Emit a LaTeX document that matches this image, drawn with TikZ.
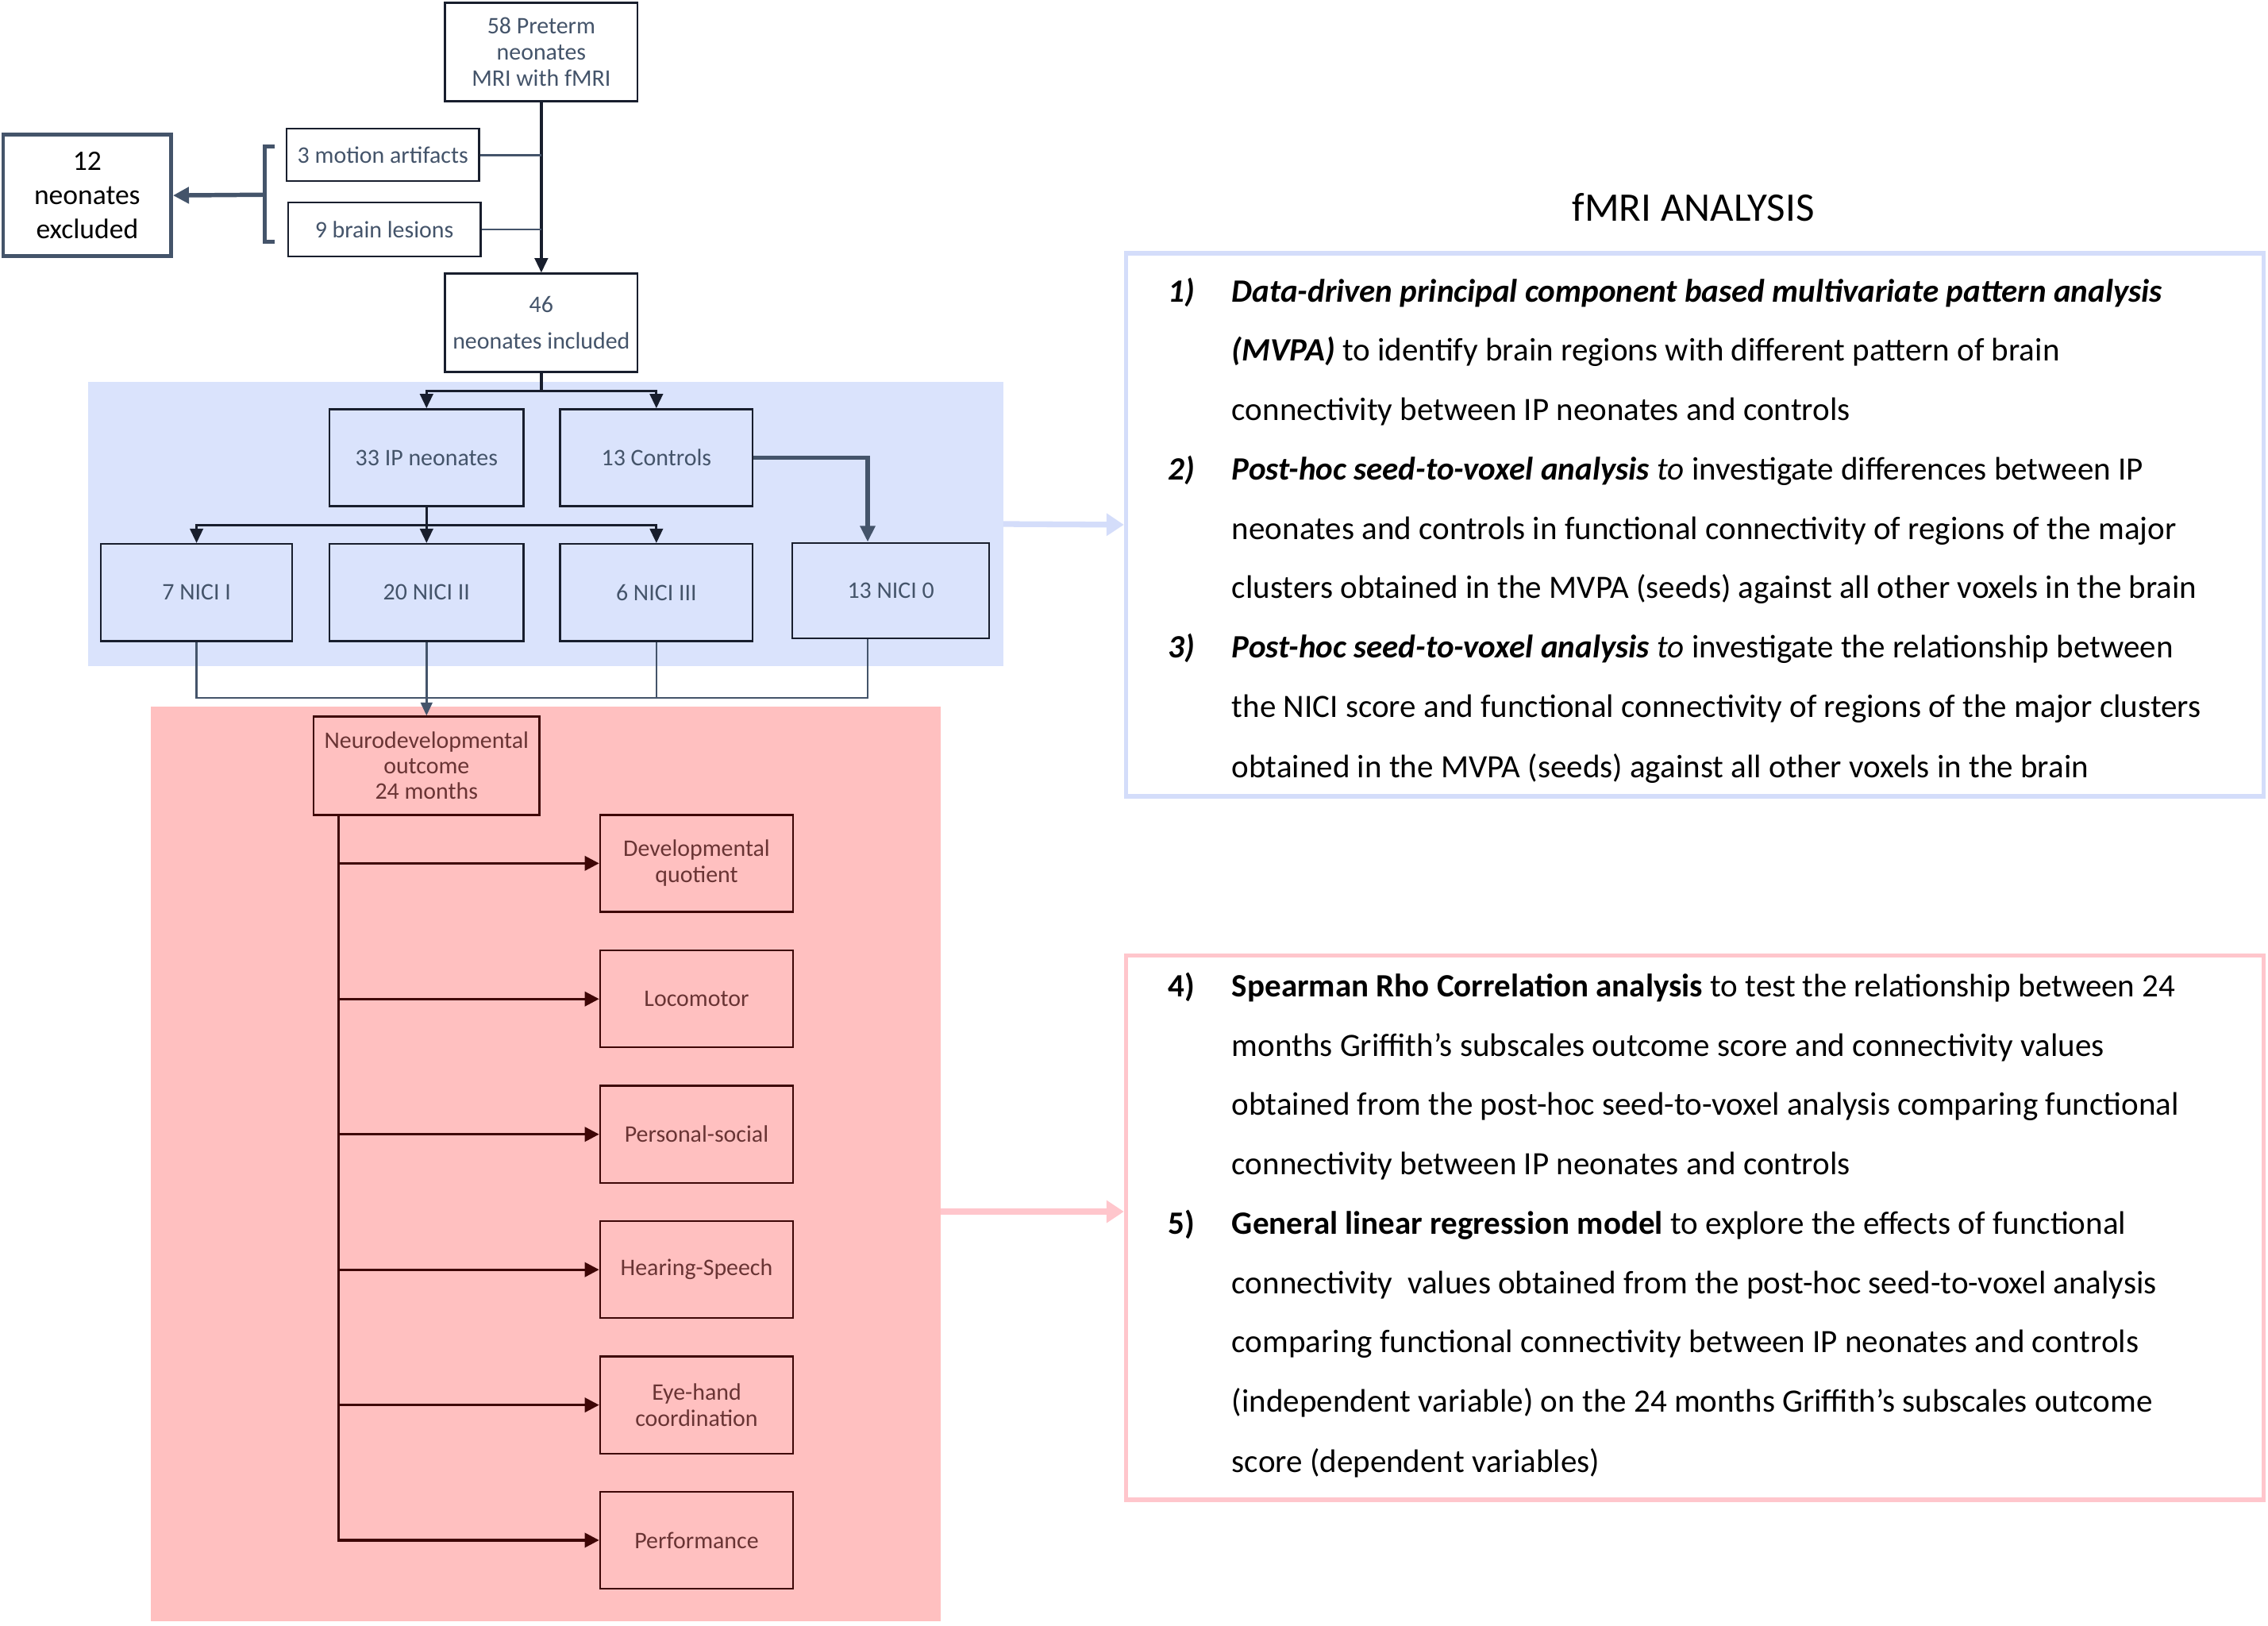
\documentclass[tikz,border=0pt]{standalone}
\usepackage{fontspec}
\setmainfont{Carlito}
\usetikzlibrary{arrows.meta,calc}
\definecolor{slate}{RGB}{68,84,106}
\definecolor{navy}{RGB}{24,30,45}
\definecolor{bluebg}{RGB}{218,227,252}
\definecolor{pinkbg}{RGB}{255,192,192}
\definecolor{maroon}{RGB}{62,6,6}
\definecolor{maroontext}{RGB}{105,52,52}
\definecolor{blueline}{RGB}{212,221,250}
\definecolor{pinkline}{RGB}{255,198,204}
\begin{document}
\begin{tikzpicture}[x=1pt,y=-1pt,
  box/.style={draw=navy,line width=1.3pt,rectangle,inner sep=0pt,align=center,text=slate,
    font=\fontsize{16.4}{18}\selectfont,minimum width=133pt,minimum height=67pt},
  pbox/.style={box,draw=maroon,text=maroontext},
  navyarr/.style={draw=navy,line width=1.8pt,-{Triangle[length=10pt,width=9pt]}},
  slatethin/.style={draw=slate,line width=1.3pt},
  marline/.style={draw=maroon,line width=1.8pt},
  marr/.style={marline,-{Triangle[length=10pt,width=10pt]}},
  rt/.style={anchor=base west,inner sep=0pt,font=\fontsize{22.5}{27}\selectfont},
  panel/.style={rectangle,inner sep=0pt,draw=none}]
\useasboundingbox (0,0) rectangle (1567,1122.75);
\fill[white] (0,0) rectangle (1567,1122.75);

% panels
\node[panel,fill=bluebg,minimum width=632pt,minimum height=196pt] (bp) at (377,362) {};
\node[panel,fill=pinkbg,minimum width=546pt,minimum height=632pt] (pp) at (377,804) {};

% top part
\node[box,fill=white,minimum height=68pt] (t58) at (374,36) {58 Preterm\\neonates\\MRI with fMRI};
\node[box,fill=white,minimum height=36pt] (mot) at (264.5,107) {3 motion artifacts};
\node[box,fill=white,minimum height=37pt] (les) at (265.5,158.5) {9 brain lesions};
\node[box,fill=white,draw=slate,line width=2.6pt,text=black,minimum width=116pt,minimum height=84pt,
  font=\fontsize{19.5}{23.5}\selectfont] (excl) at (60.25,135) {12\\neonates\\excluded};
\node[box,fill=white,minimum height=68pt,font=\fontsize{16.4}{25}\selectfont] (inc) at (374,223) {46\\neonates included};

\draw[navyarr] (t58.south) -- (inc.north);
\draw[slate,line width=1.6pt] (mot.east) -- (mot.east -| t58.south);
\draw[slate,line width=1.6pt] (les.east) -- (les.east -| t58.south);
\coordinate (br1) at (190,101);
\coordinate (br2) at (183,101);
\coordinate (br3) at (183,167);
\coordinate (br4) at (190,167);
\coordinate (brm) at (183,134.5);
\draw[slate,line width=2.6pt] (br1) -- (br2) -- (br3) -- (br4);
\draw[slate,line width=3pt,-{Triangle[length=11pt,width=11pt]}] (brm) -- (excl.east);

% blue panel boxes
\node[box,fill=bluebg,minimum width=134pt] (ip) at (294.7,316.2) {33 IP neonates};
\node[box,fill=bluebg] (ctrl) at (453.5,316.2) {13 Controls};
\node[box,fill=bluebg,minimum width=132.4pt] (n1) at (135.8,409.3) {7 NICI I};
\node[box,fill=bluebg,minimum width=134pt] (n2) at (294.7,409.3) {20 NICI II};
\node[box,fill=bluebg] (n3) at (453.5,409.3) {6 NICI III};
\node[box,fill=bluebg,minimum width=136pt,minimum height=66pt] (n0) at (615.5,408) {13 NICI 0};

\coordinate (j1) at (374,270);
\draw[navy,line width=1.8pt] (inc.south) -- (j1);
\draw[navyarr] (j1) -| (ip.north);
\draw[navyarr] (j1) -| (ctrl.north);
\coordinate (j2) at (294.7,363);
\draw[navy,line width=1.8pt] (ip.south) -- (j2);
\draw[navyarr] (j2) -| (n1.north);
\draw[navyarr] (j2) -- (n2.north);
\draw[navyarr] (j2) -| (n3.north);
\coordinate (c0t) at ([xshift=-16pt]n0.north);
\coordinate (c0) at ([xshift=-16pt]n0.south);
\draw[slate,line width=3pt,-{Triangle[length=11pt,width=10pt]}] (ctrl.east) -| (c0t);

% pink panel
\node[pbox,minimum width=156pt,minimum height=68pt,font=\fontsize{16.4}{17.5}\selectfont] (neuro) at (294.7,529) {Neurodevelopmental\\outcome\\24 months};
\coordinate (my) at (0,482);
\draw[slatethin] (n1.south) |- (c0 |- my) -- (c0);
\draw[slatethin] (n3.south) -- (n3.south |- my);
\draw[slate,line width=1.4pt,-{Triangle[length=9pt,width=8pt]}] (n2.south) -- (neuro.north);

\node[pbox,minimum width=133.4pt] (dq) at (481.3,596.4) {Developmental\\quotient};
\node[pbox,minimum width=133.4pt] (loco) at (481.3,690.1) {Locomotor};
\node[pbox,minimum width=133.4pt] (ps) at (481.3,783.6) {Personal-social};
\node[pbox,minimum width=133.4pt] (hs) at (481.3,877.1) {Hearing-Speech};
\node[pbox,minimum width=133.4pt] (eh) at (481.3,970.6) {Eye-hand\\coordination};
\node[pbox,minimum width=133.4pt] (perf) at (481.3,1064) {Performance};

\coordinate (nv) at (234,563);
\draw[marr] (nv) |- (perf.west);
\draw[marr] (nv |- dq.west) -- (dq.west);
\draw[marr] (nv |- loco.west) -- (loco.west);
\draw[marr] (nv |- ps.west) -- (ps.west);
\draw[marr] (nv |- hs.west) -- (hs.west);
\draw[marr] (nv |- eh.west) -- (eh.west);

% right boxes
\node[panel,draw=blueline,line width=3pt,minimum width=786pt,minimum height=375pt] (bb) at (1171,362.5) {};
\node[panel,draw=pinkline,line width=3pt,minimum width=786pt,minimum height=376pt] (pb) at (1171,848) {};
\node[inner sep=0pt,font=\fontsize{28}{30}\selectfont] (title) at (1170,143) {fMRI ANALYSIS};

\draw[blueline,line width=4pt,-{Triangle[length=12pt,width=15pt]}] (bp.east) -- (bb.west);
\coordinate (ya) at (0,837);
\draw[pinkline,line width=4pt,-{Triangle[length=12pt,width=15pt]}] (pp.east |- ya) -- (pb.west |- ya);

% text blue box
\node[rt] (k1) at (807,208.5) {\textbf{\textit{1)}}};
\node[rt] (a1) at (851,208.5) {\textbf{\textit{Data-driven principal component based multivariate pattern analysis}}};
\node[rt] (a2) at (851,249.5) {\textbf{\textit{(MVPA)}} to identify brain regions with different pattern of brain};
\node[rt] (a3) at (851,290.5) {connectivity between IP neonates and controls};
\node[rt] (k2) at (807,331.5) {\textbf{\textit{2)}}};
\node[rt] (a4) at (851,331.5) {\textbf{\textit{Post-hoc seed-to-voxel analysis}} \textit{to} investigate differences between IP};
\node[rt] (a5) at (851,372.5) {neonates and controls in functional connectivity of regions of the major};
\node[rt] (a6) at (851,413.5) {clusters obtained in the MVPA (seeds) against all other voxels in the brain};
\node[rt] (k3) at (807,454.5) {\textbf{\textit{3)}}};
\node[rt] (a7) at (851,454.5) {\textbf{\textit{Post-hoc seed-to-voxel analysis}} \textit{to} investigate the relationship between};
\node[rt] (a8) at (851,495.5) {the NICI score and functional connectivity of regions of the major clusters};
\node[rt] (a9) at (851,537) {obtained in the MVPA (seeds) against all other voxels in the brain};

% text pink box
\node[rt] (k4) at (807,688.5) {\textbf{4)}};
\node[rt] (b1) at (851,688.5) {\textbf{Spearman Rho Correlation analysis} to test the relationship between 24};
\node[rt] (b2) at (851,729.5) {months Griffith’s subscales outcome score and connectivity values};
\node[rt] (b3) at (851,770.5) {obtained from the post-hoc seed-to-voxel analysis comparing functional};
\node[rt] (b4) at (851,811.5) {connectivity between IP neonates and controls};
\node[rt] (k5) at (807,852.5) {\textbf{5)}};
\node[rt] (b5) at (851,852.5) {\textbf{General linear regression model} to explore the effects of functional};
\node[rt] (b6) at (851,893.5) {connectivity\ \ values obtained from the post-hoc seed-to-voxel analysis};
\node[rt] (b7) at (851,934.5) {comparing functional connectivity between IP neonates and controls};
\node[rt] (b8) at (851,975.5) {(independent variable) on the 24 months Griffith’s subscales outcome};
\node[rt] (b9) at (851,1017) {score (dependent variables)};
\end{tikzpicture}
\end{document}
